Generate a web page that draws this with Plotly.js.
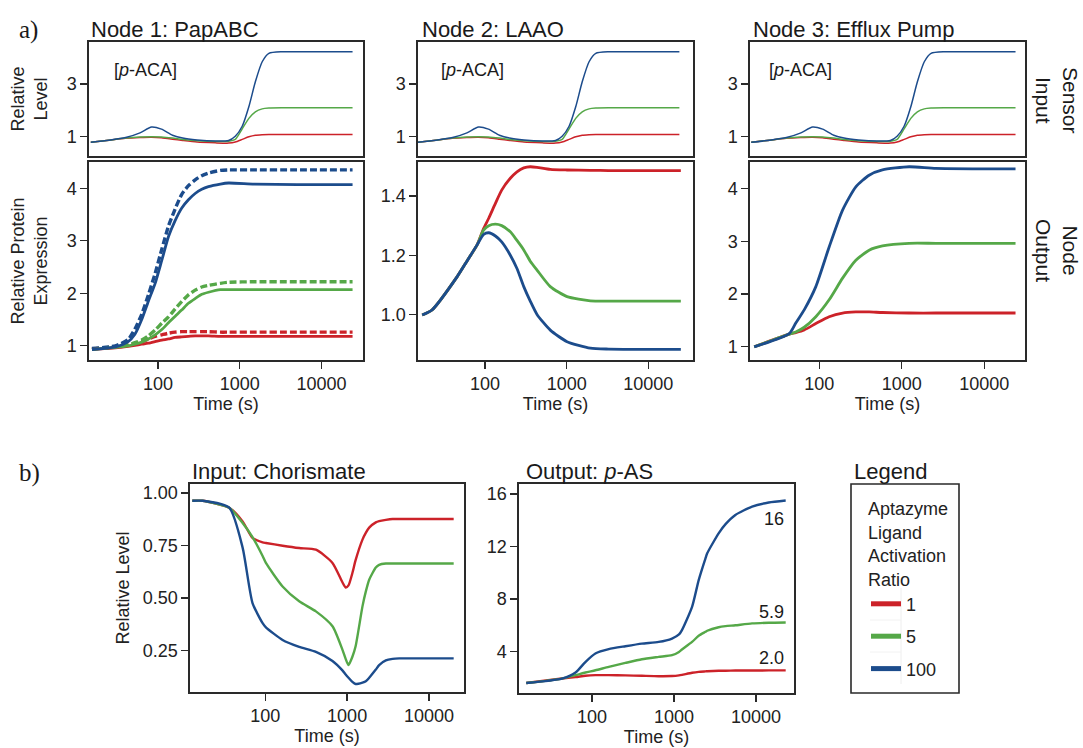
<!DOCTYPE html>
<html><head><meta charset="utf-8">
<script src="https://cdn.plot.ly/plotly-3.0.1.min.js"></script>
<style>html,body{margin:0;padding:0;background:#fff}#c{width:1083px;height:748px}</style>
</head><body><div id="c"></div>
<script>
// ---------- DATA ----------
const ratioNames = ['1','5','100'];
// Sensor input [p-ACA] (same in all three nodes)
const tSensor = [15,25,40,60,83,110,150,200,300,500,730,880,1070,1290,1550,1880,2270,3300,5000,10000,24000];
const sensorRed   = [0.79,0.87,0.94,0.97,0.98,0.96,0.91,0.86,0.80,0.77,0.76,0.80,0.90,1.00,1.06,1.08,1.09,1.09,1.09,1.09,1.09];
const sensorGreen = [0.79,0.87,0.95,0.99,1.00,0.99,0.95,0.90,0.85,0.82,0.83,0.90,1.30,1.70,1.95,2.06,2.09,2.10,2.10,2.10,2.10];
const sensorBlue  = [0.79,0.87,0.97,1.15,1.37,1.29,1.06,0.95,0.88,0.84,0.86,1.02,1.40,2.14,3.09,3.85,4.17,4.23,4.23,4.23,4.23];
// Node 1: PapABC (solid and dashed)
const tNode1 = [15.5,30,43,52,63,76,92,111,134,161,194,235,284,342,413,578,728,1500,5000,24000];
const n1RedSolid   = [0.93,0.96,0.99,1.01,1.03,1.05,1.08,1.11,1.13,1.16,1.17,1.18,1.19,1.19,1.19,1.18,1.18,1.18,1.18,1.18];
const n1RedDash    = [0.94,0.98,1.01,1.04,1.08,1.13,1.18,1.21,1.24,1.26,1.27,1.27,1.27,1.27,1.27,1.26,1.26,1.26,1.26,1.26];
const n1GreenSolid = [0.93,0.97,1.00,1.03,1.07,1.13,1.21,1.31,1.44,1.56,1.68,1.81,1.90,1.98,2.02,2.07,2.07,2.07,2.07,2.07];
const n1GreenDash  = [0.94,0.98,1.02,1.06,1.11,1.19,1.30,1.43,1.55,1.70,1.84,1.97,2.06,2.12,2.15,2.19,2.21,2.22,2.22,2.22];
const n1BlueSolid  = [0.93,0.98,1.08,1.22,1.50,1.85,2.19,2.63,3.08,3.38,3.62,3.78,3.90,3.98,4.03,4.08,4.10,4.08,4.07,4.07];
const n1BlueDash   = [0.95,1.00,1.12,1.32,1.60,1.97,2.38,2.84,3.28,3.60,3.88,4.05,4.16,4.24,4.29,4.34,4.35,4.35,4.35,4.35];
// Node 2: LAAO
const tNode2 = [17,22.4,45.4,60,80,96,111,134,160,204,246,298,358,433,630,1010,1950,3260,25000];
const n2Red   = [0.998,1.015,1.127,1.18,1.235,1.29,1.325,1.375,1.42,1.46,1.482,1.495,1.499,1.497,1.49,1.488,1.487,1.486,1.486];
const n2Green = [0.998,1.015,1.127,1.18,1.235,1.285,1.30,1.305,1.30,1.279,1.25,1.218,1.18,1.15,1.094,1.06,1.046,1.045,1.045];
const n2Blue  = [0.998,1.015,1.127,1.18,1.235,1.27,1.276,1.265,1.245,1.20,1.155,1.094,1.045,1.00,0.947,0.908,0.886,0.883,0.882];
// Node 3: Efflux Pump
const tNode3 = [16.3,43.3,52,65.8,91,132,192,278,403,584,1230,2600,24000];
const n3Red   = [1.00,1.24,1.27,1.32,1.44,1.57,1.64,1.66,1.66,1.65,1.64,1.64,1.64];
const n3Green = [1.00,1.24,1.28,1.37,1.57,1.89,2.30,2.64,2.83,2.91,2.96,2.96,2.96];
const n3Blue  = [1.00,1.25,1.45,1.70,2.14,2.89,3.59,4.03,4.25,4.35,4.41,4.38,4.37];
// b) Input: Chorismate
const tChor = [12.9,17.2,36.4,53,70,93,102,163,260,416,663,876,960,1040,1160,1270,1540,1690,1860,2240,2460,2970,3590,4330,20000];
const chorRed   = [0.963,0.963,0.93,0.865,0.786,0.765,0.762,0.749,0.738,0.73,0.667,0.575,0.55,0.56,0.619,0.68,0.778,0.81,0.835,0.86,0.866,0.872,0.876,0.876,0.876];
const chorGreen = [0.963,0.963,0.93,0.857,0.79,0.70,0.667,0.555,0.484,0.436,0.365,0.254,0.21,0.18,0.22,0.27,0.46,0.53,0.587,0.645,0.658,0.664,0.664,0.664,0.664];
const chorBlue  = [0.963,0.963,0.93,0.74,0.476,0.38,0.36,0.30,0.267,0.243,0.20,0.155,0.135,0.12,0.10,0.09,0.097,0.103,0.12,0.159,0.18,0.203,0.21,0.212,0.212];
// b) Output: p-AS
const tPas = [15.8,43,63,83,110,160,255,405,650,945,1150,1250,1660,2000,2420,2540,3500,4250,5600,8950,14300,23000];
const pasRed   = [1.60,1.94,2.05,2.15,2.20,2.20,2.18,2.15,2.12,2.13,2.18,2.22,2.38,2.45,2.49,2.50,2.53,2.54,2.55,2.55,2.56,2.56];
const pasGreen = [1.60,1.94,2.20,2.40,2.57,2.83,3.13,3.41,3.59,3.72,3.97,4.15,4.73,5.20,5.50,5.58,5.85,5.93,6.00,6.14,6.19,6.21];
const pasBlue  = [1.60,1.94,2.40,3.20,3.85,4.18,4.40,4.60,4.73,4.99,5.30,5.63,7.40,9.44,11.10,11.48,13.00,13.70,14.40,15.04,15.35,15.50];
const pasEndLabels = ['2.0','5.9','16'];
const pasEndLabelY = [3.49,7.02,14.1];
const xTicks = [100,1000,10000];

// ---------- STYLE ----------
const RED='#CC2229', GREEN='#55A848', BLUE='#1C4C8C';
const COLORS=[RED,GREEN,BLUE];
const FONT='Liberation Sans, Arial, Helvetica, sans-serif';
const W=1083,H=748;
const dx=(a,b)=>[a/W,b/W];
const dy=(a,b)=>[1-b/H,1-a/H];

function line(x,y,color,width,xa,ya,dash){
  const l={color:color,width:width,shape:'spline',smoothing:0.6};
  if(dash) l.dash=dash;
  return {x:x,y:y,type:'scatter',mode:'lines',xaxis:xa,yaxis:ya,line:l,showlegend:false,hoverinfo:'skip'};
}
const traces=[];
[['x','y'],['x3','y3'],['x5','y5']].forEach(([xa,ya])=>{
  traces.push(line(tSensor,sensorRed,RED,1.5,xa,ya));
  traces.push(line(tSensor,sensorGreen,GREEN,1.5,xa,ya));
  traces.push(line(tSensor,sensorBlue,BLUE,1.5,xa,ya));
});
traces.push(line(tNode1,n1RedDash,RED,3.4,'x2','y2','7px,3px'));
traces.push(line(tNode1,n1GreenDash,GREEN,3.4,'x2','y2','7px,3px'));
traces.push(line(tNode1,n1BlueDash,BLUE,3.4,'x2','y2','7px,3px'));
traces.push(line(tNode1,n1RedSolid,RED,2.8,'x2','y2'));
traces.push(line(tNode1,n1GreenSolid,GREEN,2.8,'x2','y2'));
traces.push(line(tNode1,n1BlueSolid,BLUE,2.8,'x2','y2'));
traces.push(line(tNode2,n2Red,RED,2.8,'x4','y4'));
traces.push(line(tNode2,n2Green,GREEN,2.8,'x4','y4'));
traces.push(line(tNode2,n2Blue,BLUE,2.8,'x4','y4'));
traces.push(line(tNode3,n3Red,RED,2.8,'x6','y6'));
traces.push(line(tNode3,n3Green,GREEN,2.8,'x6','y6'));
traces.push(line(tNode3,n3Blue,BLUE,2.8,'x6','y6'));
traces.push(line(tChor,chorRed,RED,2.4,'x7','y7'));
traces.push(line(tChor,chorGreen,GREEN,2.4,'x7','y7'));
traces.push(line(tChor,chorBlue,BLUE,2.4,'x7','y7'));
traces.push(line(tPas,pasRed,RED,2.4,'x8','y8'));
traces.push(line(tPas,pasGreen,GREEN,2.4,'x8','y8'));
traces.push(line(tPas,pasBlue,BLUE,2.4,'x8','y8'));
// legend entries (thick swatches, no data of their own)
ratioNames.forEach((n,i)=>{
  traces.push({x:[null],y:[null],type:'scatter',mode:'lines',xaxis:'x8',yaxis:'y8',name:n,
    legendgroup:'g'+i,showlegend:true,line:{color:COLORS[i],width:5},hoverinfo:'skip'});
});

function xax(dom,range,anchor,labels,title){
  const a={domain:dom,anchor:anchor,type:'log',range:range,showgrid:false,zeroline:false,
    showline:true,mirror:true,linecolor:'#2a2a2a',linewidth:1.6,
    tickvals:xTicks,ticktext:xTicks.map(String),
    ticks:labels?'outside':'',ticklen:7,tickwidth:1.3,tickcolor:'#2a2a2a',
    showticklabels:labels,tickfont:{family:FONT,size:18,color:'#222'}};
  if(title) a.title={text:title,font:{family:FONT,size:18,color:'#222'},standoff:0};
  return a;
}
function yax(dom,range,anchor,tv,fmt,title,standoff){
  const a={domain:dom,anchor:anchor,range:range,showgrid:false,zeroline:false,
    showline:true,mirror:true,linecolor:'#2a2a2a',linewidth:1.6,
    tickvals:tv,ticks:'outside',ticklen:7,tickwidth:1.3,tickcolor:'#2a2a2a',
    tickfont:{family:FONT,size:18,color:'#222'}};
  if(fmt) a.tickformat=fmt;
  if(title) a.title={text:title,font:{family:FONT,size:18,color:'#222'},standoff:standoff};
  return a;
}

const layout={
  width:W,height:H,margin:{l:0,r:0,t:0,b:0},paper_bgcolor:'#fff',plot_bgcolor:'#fff',
  font:{family:FONT,color:'#222'},
  xaxis: xax(dx(89,363),[1.154,4.508],'y',false),
  yaxis: yax(dy(42,156),[0.27,4.6],'x',[1,3],null,'Relative<br>Level',14),
  xaxis2:xax(dx(89,363),[1.154,4.508],'y2',true,'Time (s)'),
  yaxis2:yax(dy(162,360),[0.73,4.5],'x2',[1,2,3,4],null,'Relative Protein<br>Expression',14),
  xaxis3:xax(dx(418,693),[1.179,4.547],'y3',false),
  yaxis3:yax(dy(42,156),[0.27,4.6],'x3',[1,3]),
  xaxis4:xax(dx(418,693),[1.179,4.547],'y4',true,'Time (s)'),
  yaxis4:yax(dy(162,360),[0.846,1.515],'x4',[1.0,1.2,1.4],'.1f'),
  xaxis5:xax(dx(750,1025),[1.161,4.495],'y5',false),
  yaxis5:yax(dy(42,156),[0.27,4.6],'x5',[1,3]),
  xaxis6:xax(dx(750,1025),[1.161,4.495],'y6',true,'Time (s)'),
  yaxis6:yax(dy(162,360),[0.75,4.5],'x6',[1,2,3,4]),
  xaxis7:xax(dx(190,464),[1.082,4.427],'y7',true,'Time (s)'),
  yaxis7:yax(dy(484,692),[0.052,1.043],'x7',[0.25,0.5,0.75,1.0],'.2f','Relative Level',8),
  xaxis8:xax(dx(519,794),[1.11,4.463],'y8',true,'Time (s)'),
  yaxis8:yax(dy(484,693),[0.84,16.76],'x8',[4,8,12,16]),
  showlegend:true,
  legend:{x:866/W,y:1-492/H,xanchor:'left',yanchor:'top',bgcolor:'rgba(0,0,0,0)',borderwidth:0,
    traceorder:'grouped',tracegroupgap:6,
    title:{text:'Aptazyme<br>Ligand<br>Activation<br>Ratio',font:{family:FONT,size:18,color:'#222'}},
    font:{family:FONT,size:18,color:'#222'}},
  shapes:[
    {type:'rect',xref:'paper',yref:'paper',x0:851/W,x1:959/W,y0:1-693/H,y1:1-484/H,line:{color:'#2a2a2a',width:1.6}},
    {type:'line',xref:'paper',yref:'paper',x0:901/W,x1:901/W,y0:1-684/H,y1:1-588/H,line:{color:'#eeeeee',width:1}},
    {type:'line',xref:'paper',yref:'paper',x0:870/W,x1:901/W,y0:1-620/H,y1:1-620/H,line:{color:'#f2f2f2',width:1}},
    {type:'line',xref:'paper',yref:'paper',x0:870/W,x1:901/W,y0:1-652/H,y1:1-652/H,line:{color:'#f2f2f2',width:1}}
  ],
  annotations:[]
};
const A=layout.annotations;
function txt(t,x,y,size,opt){A.push(Object.assign({text:t,xref:'paper',yref:'paper',x:x/W,y:1-y/H,showarrow:false,
  xanchor:'left',yanchor:'middle',font:{family:FONT,size:size,color:'#1a1a1a'}},opt||{}));}
const SERIF={family:'Liberation Serif, Times New Roman, serif',size:25,color:'#1a1a1a'};
txt('a)',17,30,25,{font:SERIF});
txt('b)',17,473,25,{font:SERIF});
txt('Node 1: PapABC',89,29,22);
txt('Node 2: LAAO',420,29,22);
txt('Node 3: Efflux Pump',751,29,22);
txt('Input: Chorismate',190,471,22);
txt('Output: <i>p</i>-AS',524,471,22);
txt('Legend',852,471,22);
txt('[<i>p</i>-ACA]',112,70,18);
txt('[<i>p</i>-ACA]',439,70,18);
txt('[<i>p</i>-ACA]',767,70,18);
txt('Sensor<br>Input',1057,100,21,{xanchor:'center',textangle:90});
txt('Node<br>Output',1057,250,21,{xanchor:'center',textangle:90});
pasEndLabels.forEach((s,i)=>{A.push({text:s,xref:'x8',yref:'y8',x:Math.log10(23000),y:pasEndLabelY[i],
  showarrow:false,xanchor:'right',yanchor:'middle',font:{family:FONT,size:18,color:'#1a1a1a'}});});

Plotly.newPlot('c',traces,layout,{displayModeBar:false,staticPlot:true});
</script></body></html>
